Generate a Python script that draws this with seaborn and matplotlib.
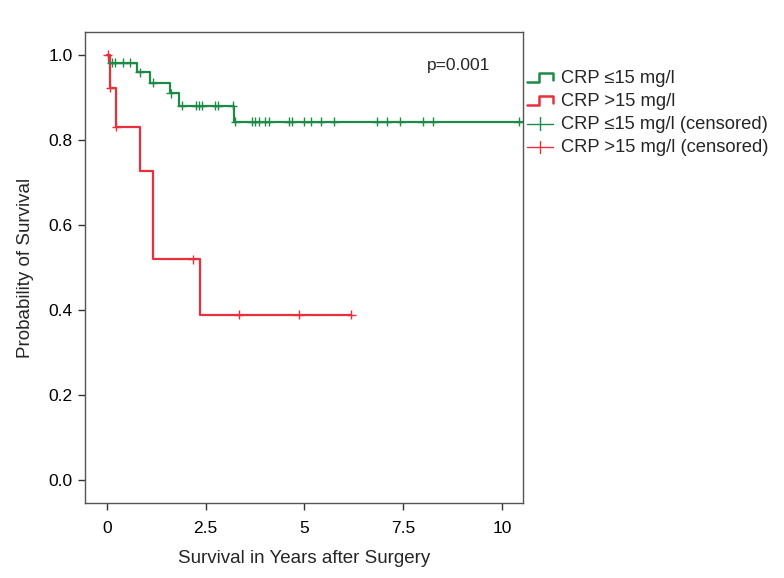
import numpy as np
import pandas as pd
import seaborn as sns
import matplotlib
matplotlib.use("Agg")
import matplotlib.pyplot as plt
from matplotlib.lines import Line2D
from matplotlib.legend_handler import HandlerBase

# Curvas Kaplan-Meier
t_low = [0, 0.05, 0.76, 1.10, 1.60, 1.84, 3.23, 10.8]
s_low = [1.0, 0.982, 0.959, 0.935, 0.910, 0.881, 0.843, 0.843]
cens_low_t = [0.13, 0.21, 0.42, 0.59, 0.83, 1.16, 1.62, 1.90, 2.26, 2.34, 2.41, 2.75, 2.82, 3.19,
              3.25, 3.67, 3.76, 3.84, 4.01, 4.10, 4.60, 4.68, 5.00, 5.17, 5.42, 5.76,
              6.84, 7.09, 7.43, 8.00, 8.26, 10.42, 10.8]

t_high = [0, 0.09, 0.24, 0.84, 1.18, 2.35, 6.19]
s_high = [1.0, 0.923, 0.831, 0.727, 0.519, 0.389, 0.389]
cens_high_t = [0.02, 0.09, 0.24, 2.18, 3.34, 4.86, 6.19]

green = "#1d8a47"
red = "#e8303a"
lab_low = "CRP \u226415 mg/l"
lab_high = "CRP >15 mg/l"


def surv_at(times, surv, t):
    idx = np.searchsorted(times, t, side="right") - 1
    return surv[idx]


curves = pd.concat([
    pd.DataFrame({"time": t_low, "surv": s_low, "grupo": lab_low}),
    pd.DataFrame({"time": t_high, "surv": s_high, "grupo": lab_high}),
])
cens = pd.concat([
    pd.DataFrame({"time": cens_low_t, "surv": [surv_at(t_low, s_low, t) for t in cens_low_t], "grupo": lab_low}),
    pd.DataFrame({"time": cens_high_t, "surv": [surv_at(t_high, s_high, t) for t in cens_high_t], "grupo": lab_high}),
])

sns.set_style("white")
plt.rcParams["font.family"] = ["Liberation Sans", "DejaVu Sans"]

fig = plt.figure(figsize=(7.84, 5.78), dpi=100)
ax = fig.add_axes([0.1084, 0.1298, 0.5587, 0.8148])

pal = {lab_low: green, lab_high: red}
sns.lineplot(data=curves, x="time", y="surv", hue="grupo", palette=pal, drawstyle="steps-post",
             linewidth=1.6, estimator=None, legend=False, ax=ax)
sns.scatterplot(data=cens, x="time", y="surv", hue="grupo", palette=pal, marker="+", s=45,
                linewidth=1.0, legend=False, ax=ax, zorder=3)

ax.set_xlim(-0.55, 10.53)
ax.set_ylim(-0.054, 1.054)
ax.set_xticks([0, 2.5, 5, 7.5, 10])
ax.set_xticklabels(["0", "2.5", "5", "7.5", "10"])
ax.set_yticks([0, 0.2, 0.4, 0.6, 0.8, 1.0])
ax.set_yticklabels(["0.0", "0.2", "0.4", "0.6", "0.8", "1.0"])
ax.tick_params(axis="both", direction="out", length=5, width=1, colors="#333333",
               labelcolor="black", labelsize=12.5, pad=4, left=True, bottom=True)
ax.tick_params(axis="x", pad=8)
for sp in ax.spines.values():
    sp.set_color("#555555")
    sp.set_linewidth(1)

ax.set_xlabel("Survival in Years after Surgery", fontsize=13.5, labelpad=10)
ax.set_ylabel("Probability of Survival", fontsize=13.5, labelpad=10)
ax.text(8.1, 0.976, "p=0.001", fontsize=12.5, ha="left", va="center")


class StepHandler(HandlerBase):
    def create_artists(self, legend, orig_handle, xdescent, ydescent, width, height, fontsize, trans):
        x0, y0 = -xdescent, -ydescent
        xs = [x0, x0 + 0.45 * width, x0 + 0.45 * width, x0 + width, x0 + width]
        ys = [y0 + 0.1 * height, y0 + 0.1 * height, y0 + 0.75 * height, y0 + 0.75 * height, y0 + 0.25 * height]
        ln = Line2D(xs, ys, color=orig_handle.get_color(), lw=orig_handle.get_linewidth())
        ln.set_transform(trans)
        return [ln]


class CensHandler(HandlerBase):
    def create_artists(self, legend, orig_handle, xdescent, ydescent, width, height, fontsize, trans):
        x0, y0 = -xdescent, -ydescent
        ym = y0 + 0.4 * height
        h = Line2D([x0, x0 + width], [ym, ym], color=orig_handle.get_color(), lw=1)
        v = Line2D([x0 + 0.5 * width] * 2, [ym - 0.5 * height, ym + 0.5 * height],
                   color=orig_handle.get_color(), lw=1)
        h.set_transform(trans)
        v.set_transform(trans)
        return [h, v]


class StepLine(Line2D):
    pass


class CensLine(Line2D):
    pass


handles = [StepLine([], [], color=green, lw=1.8), StepLine([], [], color=red, lw=1.8),
           CensLine([], [], color=green), CensLine([], [], color=red)]
labels = [lab_low, lab_high, lab_low + " (censored)", lab_high + " (censored)"]
fig.legend(handles, labels, loc="upper left", bbox_to_anchor=(0.672, 0.879), frameon=False,
           fontsize=13.2, handlelength=1.45, handletextpad=0.4, labelspacing=0.33, borderaxespad=0,
           borderpad=0, handler_map={StepLine: StepHandler(), CensLine: CensHandler()})

fig.savefig("out.png", dpi=100)
